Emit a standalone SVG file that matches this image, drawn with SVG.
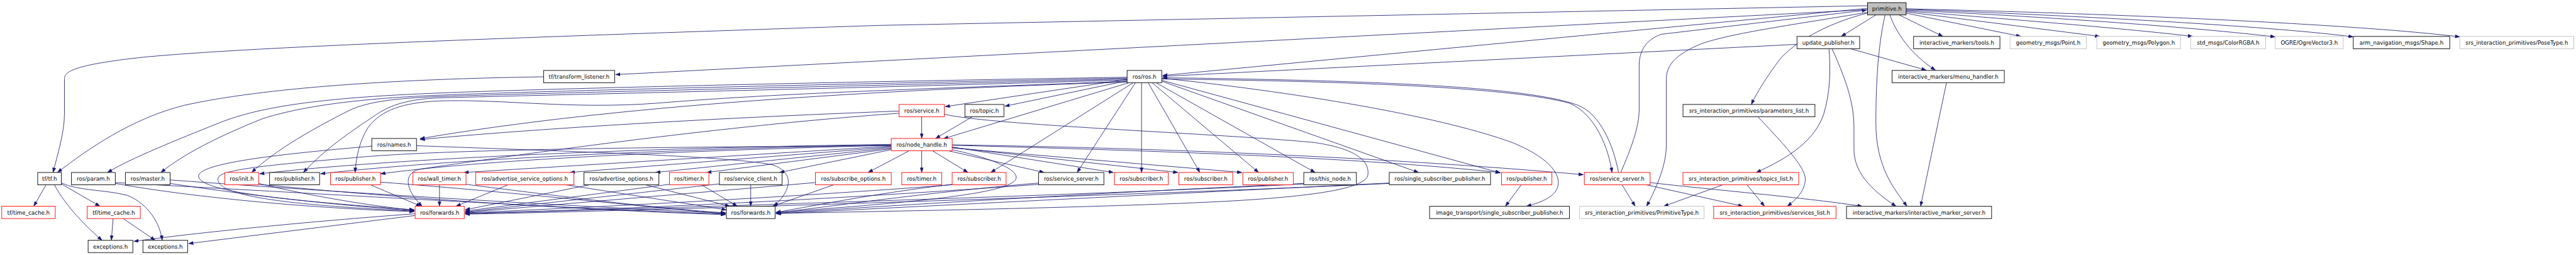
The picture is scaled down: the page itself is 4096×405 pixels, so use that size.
<svg xmlns="http://www.w3.org/2000/svg" width="4096" height="405" viewBox="0 0 4096 405">
<defs>
<style>
.node rect{fill:#fff;stroke:#000;stroke-width:1.3}
.node.r rect{stroke:#ff0000}
.node.g rect{stroke:#bfbfbf}
.node.root rect{fill:#bfbfbf}
.node text{font-family:"DejaVu Sans","Liberation Sans",sans-serif;font-size:12.5px;text-anchor:middle;fill:#000}
#edges path{fill:none;stroke:#191970;stroke-width:1.2;marker-end:url(#ah)}
</style>
<marker id="ah" markerWidth="11" markerHeight="8" refX="11" refY="4" orient="auto" markerUnits="userSpaceOnUse"><path d="M0,0 L11,4 L0,8 Z" fill="#191970" stroke="#191970" stroke-width="0.5"/></marker>
</defs>
<rect width="4096" height="405" fill="#fff"/>
<g transform="scale(0.69707)">
<g id="edges">
<path d="M4279,34 L4200,83"/>
<path d="M4332,34 L4432,83"/>
<path d="M4348,30 L4610,83"/>
<path d="M4348,27 L4790,83"/>
<path d="M4348,25 C4600,45 4850,65 5002,83"/>
<path d="M4348,23 C4700,40 5000,62 5190,84"/>
<path d="M4348,21 C4800,38 5200,62 5368,84"/>
<path d="M4348,20 C4900,33 5400,58 5611,84"/>
<path d="M4311,34 C4325,75 4360,125 4415,160"/>
<path d="M4300,34 C4285,100 4279,180 4279,280 C4279,380 4320,430 4350,470"/>
<path d="M4259,30 C4160,55 4090,100 4060,135 C4030,175 4005,215 3995,238"/>
<path d="M4260,28 C4100,55 3950,75 3880,100 C3820,125 3801,150 3801,180 L3801,330 C3801,375 3780,425 3756,470"/>
<path d="M4260,19 L2652,172"/>
<path d="M4260,22 L1404,170"/>
<path d="M4260,13 L2000,58 C1200,85 600,105 330,130 C160,148 147,165 147,180 L147,260 C147,300 132,350 121,393"/>
<path d="M3697,393 C3720,340 3739,290 3739,250 L3739,150 C3739,115 3755,90 3790,78 L4258,23"/>
<path d="M4099,101 L2652,174"/>
<path d="M4221,111 L4394,160"/>
<path d="M4172,111 C4176,160 4175,210 4160,260 C4140,320 4080,360 4006,393"/>
<path d="M4179,111 C4215,190 4229,240 4229,290 L4229,340 C4229,400 4280,440 4325,470"/>
<path d="M4440,188.5 L4381,470"/>
<path d="M4010,266 C4060,320 4120,380 4118,410 C4116,440 4090,460 4077,470"/>
<path d="M3985,421 L4025,470"/>
<path d="M3930,421 L3795,470"/>
<path d="M3764,416 C3900,432 4100,448 4248,470"/>
<path d="M3755,421 L3976,470"/>
<path d="M3700,421 L3730,470"/>
<path d="M3470,421 L3434,470"/>
<path d="M2650,178 C3000,215 3300,270 3450,325 C3560,370 3570,420 3540,445 C3520,460 3500,465 3482,470"/>
<path d="M2650,180 C3100,185 3450,200 3580,235 C3640,260 3670,340 3677,393"/>
<path d="M3692,393 C3680,330 3650,260 3600,240 C3480,195 3100,183 2652,177"/>
<path d="M2571,181 L2156,243"/>
<path d="M2571,184 L2292,242"/>
<path d="M2575,188.5 L2152,316"/>
<path d="M2585,188.5 L2260,393"/>
<path d="M2590,188.5 L2457,393"/>
<path d="M2604,188.5 L2604,393"/>
<path d="M2619,188.5 L2737,393"/>
<path d="M2628,188.5 L2871,393"/>
<path d="M2637,188.5 L3000,393"/>
<path d="M2650,185 L3236,393"/>
<path d="M2650,183 L3423,394"/>
<path d="M2571,176 C2000,185 1300,200 1000,212 C750,222 600,240 500,280 C400,320 300,360 245,393"/>
<path d="M2571,178 C2000,190 1300,205 1000,217 C800,225 680,245 600,270 C500,310 420,350 367,393"/>
<path d="M2571,180 C2000,195 1300,210 1000,220 C900,224 840,232 800,250 C720,290 630,340 574,393"/>
<path d="M2571,182 C2000,200 1300,215 1000,223 C930,226 890,240 860,260 C800,300 740,340 692,393"/>
<path d="M2571,185 C2200,200 1800,210 1500,235 C1300,250 1150,225 1000,230 C920,234 870,250 840,290 C820,320 812,360 810,393"/>
<path d="M2571,187 C2000,205 1400,240 958,316"/>
<path d="M2051,253 C1600,270 1200,295 958,318"/>
<path d="M1240,175 C900,180 600,200 420,240 C300,270 200,340 131,393"/>
<path d="M2102.5,266 L2102.5,315.5"/>
<path d="M2218,266 L2134,315.5"/>
<path d="M2074,343.5 L1980,393"/>
<path d="M2102.5,343.5 L2102.5,393"/>
<path d="M2127,343.5 L2208,393"/>
<path d="M2163,343.5 L2382,393"/>
<path d="M2172,335 L2540,393"/>
<path d="M2172,336 L2687,393"/>
<path d="M2172,337 L2833,393"/>
<path d="M2172,331 C2700,345 3100,360 3422,393"/>
<path d="M2172,330 C2700,338 3200,362 3612,398"/>
<path d="M2033,341 L1778,393"/>
<path d="M2033,339 L1612,393"/>
<path d="M2033,337 L1495,393"/>
<path d="M2033,335 L1300,393"/>
<path d="M2033,333 L1058,393"/>
<path d="M2033,331 C1500,345 1100,365 868,396"/>
<path d="M2033,330 C1500,340 1000,365 731,396"/>
<path d="M2033,329 C1500,336 900,360 592,396"/>
<path d="M2033,332 C1500,335 1000,340 800,360 C560,380 497,390 497,408 C497,440 600,465 945,481"/>
<path d="M2172,341 C2260,360 2320,385 2318,405 C2315,440 2100,460 1770,484"/>
<path d="M2154,260 C2250,285 2800,305 3000,325 C3100,340 3125,370 3120,400 C3110,440 2900,455 2700,463 C2400,475 2000,482 1770,486"/>
<path d="M2051,258 C1600,290 1100,365 960,385 C920,392 922,430 963,470"/>
<path d="M950,332 C1300,345 1650,355 1760,375 C1810,390 1810,430 1765,470"/>
<path d="M848,333 C650,350 460,370 453,400 C448,440 700,460 945,478"/>
<path d="M263,418 C500,460 800,478 945,482"/>
<path d="M263,416 C700,440 1300,475 1655,488"/>
<path d="M388,418 C600,450 800,470 945,480"/>
<path d="M388,410 C800,440 1300,470 1655,486"/>
<path d="M590,418 C700,445 850,470 945,479"/>
<path d="M590,420 C900,450 1300,478 1655,489"/>
<path d="M845,421 L960,470"/>
<path d="M868,415 C1200,440 1450,470 1655,487"/>
<path d="M1002.5,421 L1002.5,470"/>
<path d="M1063,420 C1300,450 1500,475 1655,485"/>
<path d="M1159,421 L1040,470"/>
<path d="M1290,421 L1657,478"/>
<path d="M1345,421 L1061,478"/>
<path d="M1472,421 L1665,470"/>
<path d="M1527,420 L1061,481"/>
<path d="M1600,421 L1682,470"/>
<path d="M1641,419 L1061,483"/>
<path d="M1712.5,421 L1712.5,470"/>
<path d="M1860,416 L1061,484"/>
<path d="M1902,421 L1762,470"/>
<path d="M2172,420 C2000,440 1850,470 1770,484"/>
<path d="M2172,421 C1800,450 1300,475 1061,485"/>
<path d="M2369,417 C2100,440 1900,470 1770,485"/>
<path d="M2369,420 C1900,455 1400,478 1061,486"/>
<path d="M2974,419 C2500,445 1300,480 1061,487"/>
<path d="M2974,418 C2500,440 2000,470 1770,486"/>
<path d="M3169,418 C2600,445 1400,482 1061,488"/>
<path d="M3169,417 C2700,440 2100,470 1770,487"/>
<path d="M947,487 C700,505 450,530 305,550"/>
<path d="M947,491 L430,555"/>
<path d="M105,421 L77,470"/>
<path d="M124,421 C150,470 200,520 233,547.5"/>
<path d="M140,419 L228,470"/>
<path d="M140,417 C180,435 240,432 290,445 C340,465 365,510 370,547.5"/>
<path d="M258,498 L254,547.5"/>
<path d="M281,498 L354,547.5"/>
</g>
<g id="node-prim" class="node root"><rect x="4260" y="6" width="88" height="28"/><text x="4304" y="24.5">primitive.h</text></g>
<g id="node-upd" class="node"><rect x="4099" y="83" width="143" height="28"/><text x="4170.5" y="101.5">update_publisher.h</text></g>
<g id="node-tools" class="node"><rect x="4365" y="83" width="197" height="28"/><text x="4463.5" y="101.5">interactive_markers/tools.h</text></g>
<g id="node-point" class="node g"><rect x="4585" y="83" width="174" height="28"/><text x="4672" y="101.5">geometry_msgs/Point.h</text></g>
<g id="node-poly" class="node g"><rect x="4783" y="83" width="191" height="28"/><text x="4878.5" y="101.5">geometry_msgs/Polygon.h</text></g>
<g id="node-color" class="node g"><rect x="4997" y="83" width="171" height="28"/><text x="5082.5" y="101.5">std_msgs/ColorRGBA.h</text></g>
<g id="node-ogre" class="node g"><rect x="5190" y="83" width="155" height="28"/><text x="5267.5" y="101.5">OGRE/OgreVector3.h</text></g>
<g id="node-shape" class="node"><rect x="5368" y="83" width="220" height="28"/><text x="5478" y="101.5">arm_navigation_msgs/Shape.h</text></g>
<g id="node-pose" class="node g"><rect x="5611" y="83" width="260" height="28"/><text x="5741" y="101.5">srs_interaction_primitives/PoseType.h</text></g>
<g id="node-tl" class="node"><rect x="1240" y="160.5" width="162" height="28"/><text x="1321" y="179">tf/transform_listener.h</text></g>
<g id="node-ros" class="node"><rect x="2571" y="160.5" width="79" height="28"/><text x="2610.5" y="179">ros/ros.h</text></g>
<g id="node-menu" class="node"><rect x="4316" y="160.5" width="256" height="28"/><text x="4444" y="179">interactive_markers/menu_handler.h</text></g>
<g id="node-service" class="node r"><rect x="2051" y="238" width="103" height="28"/><text x="2102.5" y="256.5">ros/service.h</text></g>
<g id="node-topic" class="node"><rect x="2201" y="238" width="89" height="28"/><text x="2245.5" y="256.5">ros/topic.h</text></g>
<g id="node-params" class="node"><rect x="3839" y="238" width="301" height="28"/><text x="3989.5" y="256.5">srs_interaction_primitives/parameters_list.h</text></g>
<g id="node-names" class="node"><rect x="848" y="315.5" width="102" height="28"/><text x="899" y="334">ros/names.h</text></g>
<g id="node-nh" class="node r"><rect x="2033" y="315.5" width="139" height="28"/><text x="2102.5" y="334">ros/node_handle.h</text></g>
<g id="node-tf" class="node"><rect x="86" y="393" width="54" height="28"/><text x="113" y="411.5">tf/tf.h</text></g>
<g id="node-param" class="node"><rect x="163" y="393" width="100" height="28"/><text x="213" y="411.5">ros/param.h</text></g>
<g id="node-master" class="node"><rect x="286" y="393" width="102" height="28"/><text x="337" y="411.5">ros/master.h</text></g>
<g id="node-init" class="node r"><rect x="513" y="393" width="77" height="28"/><text x="551.5" y="411.5">ros/init.h</text></g>
<g id="node-pub1" class="node"><rect x="615" y="393" width="114" height="28"/><text x="672" y="411.5">ros/publisher.h</text></g>
<g id="node-pub2" class="node r"><rect x="754" y="393" width="114" height="28"/><text x="811" y="411.5">ros/publisher.h</text></g>
<g id="node-wall" class="node r"><rect x="942" y="393" width="121" height="28"/><text x="1002.5" y="411.5">ros/wall_timer.h</text></g>
<g id="node-aso" class="node r"><rect x="1085" y="393" width="224" height="28"/><text x="1197" y="411.5">ros/advertise_service_options.h</text></g>
<g id="node-ao" class="node"><rect x="1332" y="393" width="171" height="28"/><text x="1417.5" y="411.5">ros/advertise_options.h</text></g>
<g id="node-timer1" class="node r"><rect x="1527" y="393" width="90" height="28"/><text x="1572" y="411.5">ros/timer.h</text></g>
<g id="node-sc" class="node"><rect x="1641" y="393" width="143" height="28"/><text x="1712.5" y="411.5">ros/service_client.h</text></g>
<g id="node-so" class="node r"><rect x="1860" y="393" width="173" height="28"/><text x="1946.5" y="411.5">ros/subscribe_options.h</text></g>
<g id="node-timer2" class="node r"><rect x="2057" y="393" width="91" height="28"/><text x="2102.5" y="411.5">ros/timer.h</text></g>
<g id="node-sub1" class="node r"><rect x="2172" y="393" width="123" height="28"/><text x="2233.5" y="411.5">ros/subscriber.h</text></g>
<g id="node-ss1" class="node"><rect x="2369" y="393" width="149" height="28"/><text x="2443.5" y="411.5">ros/service_server.h</text></g>
<g id="node-sub2" class="node r"><rect x="2542" y="393" width="123" height="28"/><text x="2603.5" y="411.5">ros/subscriber.h</text></g>
<g id="node-sub3" class="node r"><rect x="2689" y="393" width="123" height="28"/><text x="2750.5" y="411.5">ros/subscriber.h</text></g>
<g id="node-pub3" class="node r"><rect x="2835" y="393" width="115" height="28"/><text x="2892.5" y="411.5">ros/publisher.h</text></g>
<g id="node-this" class="node"><rect x="2974" y="393" width="120" height="28"/><text x="3034" y="411.5">ros/this_node.h</text></g>
<g id="node-ssp" class="node"><rect x="3169" y="393" width="231" height="28"/><text x="3284.5" y="411.5">ros/single_subscriber_publisher.h</text></g>
<g id="node-pub4" class="node r"><rect x="3425" y="393" width="115" height="28"/><text x="3482.5" y="411.5">ros/publisher.h</text></g>
<g id="node-ss2" class="node r"><rect x="3614" y="393" width="150" height="28"/><text x="3689" y="411.5">ros/service_server.h</text></g>
<g id="node-topics" class="node r"><rect x="3839" y="393" width="264" height="28"/><text x="3971" y="411.5">srs_interaction_primitives/topics_list.h</text></g>
<g id="node-tc1" class="node r"><rect x="4" y="470" width="122" height="28"/><text x="65" y="488.5">tf/time_cache.h</text></g>
<g id="node-tc2" class="node r"><rect x="199" y="470" width="121" height="28"/><text x="259.5" y="488.5">tf/time_cache.h</text></g>
<g id="node-fwd1" class="node r"><rect x="947" y="470" width="112" height="28"/><text x="1003" y="488.5">ros/forwards.h</text></g>
<g id="node-fwd2" class="node"><rect x="1657" y="470" width="111" height="28"/><text x="1712.5" y="488.5">ros/forwards.h</text></g>
<g id="node-itssp" class="node"><rect x="3261" y="470" width="319" height="28"/><text x="3420.5" y="488.5">image_transport/single_subscriber_publisher.h</text></g>
<g id="node-ptype" class="node g"><rect x="3603" y="470" width="284" height="28"/><text x="3745" y="488.5">srs_interaction_primitives/PrimitiveType.h</text></g>
<g id="node-slist" class="node r"><rect x="3909" y="470" width="279" height="28"/><text x="4048.5" y="488.5">srs_interaction_primitives/services_list.h</text></g>
<g id="node-ims" class="node"><rect x="4212" y="470" width="331" height="28"/><text x="4377.5" y="488.5">interactive_markers/interactive_marker_server.h</text></g>
<g id="node-exc1" class="node"><rect x="201" y="547.5" width="102" height="28"/><text x="252" y="566">exceptions.h</text></g>
<g id="node-exc2" class="node"><rect x="326" y="547.5" width="102" height="28"/><text x="377" y="566">exceptions.h</text></g>
</g>
</svg>
